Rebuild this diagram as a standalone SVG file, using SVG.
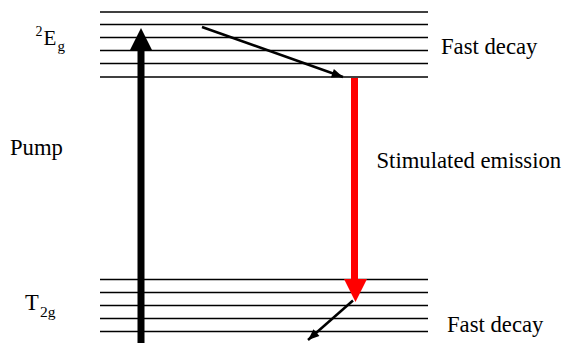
<svg xmlns="http://www.w3.org/2000/svg" width="563" height="343" viewBox="0 0 563 343">
<defs>
<marker id="ah" viewBox="0 0 10 8" refX="10" refY="4" markerWidth="12" markerHeight="9" markerUnits="userSpaceOnUse" orient="auto">
<path d="M0,0 L10,4 L0,8 Z" fill="#000"/>
</marker>
</defs>
<rect width="563" height="343" fill="#fff"/>
<g id="upper-levels" stroke="#000" stroke-width="1.4">
<line x1="100" y1="12" x2="428" y2="12"/>
<line x1="100" y1="24.5" x2="428" y2="24.5"/>
<line x1="100" y1="37.5" x2="428" y2="37.5"/>
<line x1="100" y1="50.5" x2="428" y2="50.5"/>
<line x1="100" y1="63.5" x2="428" y2="63.5"/>
<line x1="100" y1="77" x2="428" y2="77"/>
</g>
<g id="lower-levels" stroke="#000" stroke-width="1.4">
<line x1="100" y1="279.5" x2="428" y2="279.5"/>
<line x1="100" y1="292.5" x2="428" y2="292.5"/>
<line x1="100" y1="305.5" x2="428" y2="305.5"/>
<line x1="100" y1="318.5" x2="428" y2="318.5"/>
<line x1="100" y1="331.5" x2="428" y2="331.5"/>
</g>
<g id="connectors">
<g id="pump-arrow">
<rect x="137.5" y="49" width="7" height="294" fill="#000"/>
<polygon points="130,50 152,50 141,28" fill="#000"/>
</g>
<g id="emission-arrow">
<rect x="351" y="78" width="7" height="202" fill="#f00"/>
<polygon points="344,279 367,279 355.5,302" fill="#f00"/>
</g>
<line x1="202" y1="27" x2="343" y2="77" stroke="#000" stroke-width="2.5" marker-end="url(#ah)"/>
<line x1="353" y1="300.5" x2="308" y2="340" stroke="#000" stroke-width="2.5" marker-end="url(#ah)"/>
</g>
<g id="labels" font-family="Liberation Serif, Times New Roman, DejaVu Serif, serif" fill="#000">
<g id="label-2Eg">
<text x="35.5" y="36" font-size="14">2</text>
<text x="43.5" y="45" font-size="21">E</text>
<text x="57.5" y="50.5" font-size="15">g</text>
</g>
<g id="label-T2g">
<text x="25" y="310" font-size="22.5">T</text>
<text x="40" y="316.5" font-size="15.5">2g</text>
</g>
<text x="10" y="155" font-size="22.7">Pump</text>
<text x="441" y="53.5" font-size="22.7">Fast decay</text>
<text x="376.5" y="168" font-size="22.7">Stimulated emission</text>
<text x="447" y="332" font-size="22.7">Fast decay</text>
</g>
</svg>
